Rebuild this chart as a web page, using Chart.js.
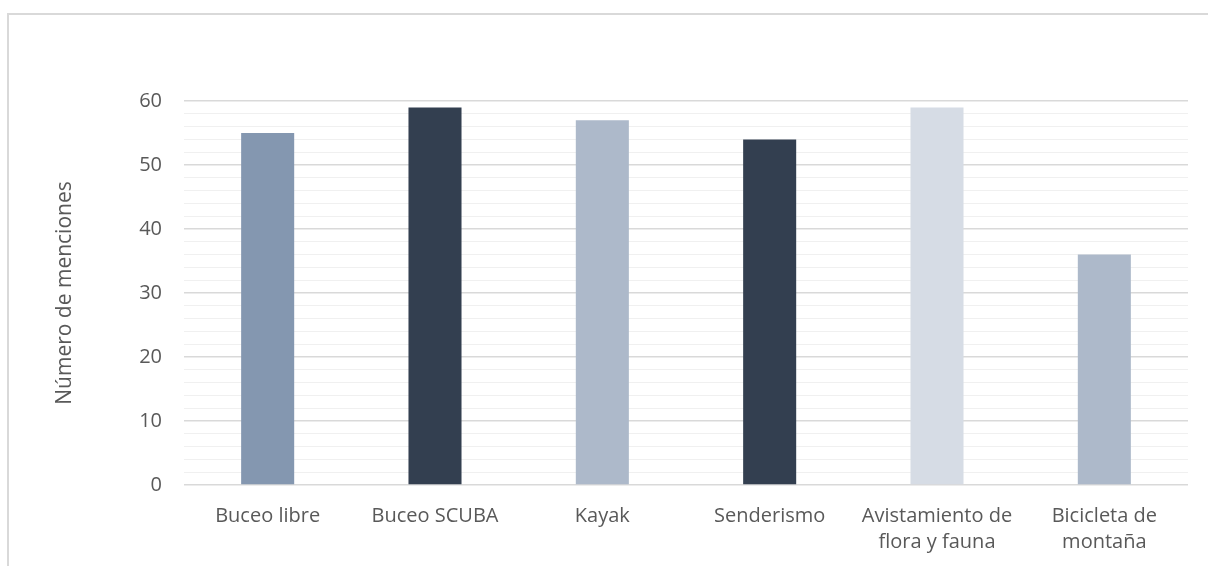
<!DOCTYPE html>
<html>
<head>
<meta charset="utf-8">
<script src="https://cdn.jsdelivr.net/npm/chart.js@4/dist/chart.umd.min.js"></script>
<style>
    html, body { margin: 0; padding: 0; background: #fff; overflow: hidden; }
    #wrap { position: relative; width: 1208px; height: 566px; }
    #frame {
        position: absolute; left: 7px; top: 13px; width: 1400px; height: 800px;
        border: 2px solid #d9d9d9; box-sizing: border-box; pointer-events: none;
    }
</style>
</head>
<body>
<div id="wrap">
    <canvas id="chart" width="1208" height="566"></canvas>
    <div id="frame"></div>
</div>
<script>
// Data
const categories = [
    'Buceo libre',
    'Buceo SCUBA',
    'Kayak',
    'Senderismo',
    ['Avistamiento de', 'flora y fauna'],
    ['Bicicleta de', 'montaña']
];
const mentions = [55, 59, 57, 54, 59, 36];
const barColors = ['#8497B0', '#333F50', '#ADB9CA', '#333F50', '#D6DCE5', '#ADB9CA'];
const yMin = 0;
const yMax = 60;
const yMinorStep = 2;
const yLabelStep = 10;
const yTitle = 'Número de menciones';

const fontFamily = '"Open Sans", Lato, sans-serif';
const textColor = '#595959';

const ctx = document.getElementById('chart');
new Chart(ctx, {
    type: 'bar',
    data: {
        labels: categories,
        datasets: [{
            label: yTitle,
            data: mentions,
            backgroundColor: barColors,
            borderWidth: 0,
            barPercentage: 0.317,
            categoryPercentage: 1.0
        }]
    },
    options: {
        responsive: false,
        animation: false,
        layout: {
            padding: { left: 0, right: 20, top: 101, bottom: 0 }
        },
        plugins: {
            legend: { display: false },
            tooltip: { enabled: false }
        },
        scales: {
            x: {
                grid: { display: false },
                border: { display: false },
                ticks: {
                    color: textColor,
                    font: { family: fontFamily, size: 20, lineHeight: 1.3 },
                    padding: 10,
                    maxRotation: 0,
                    autoSkip: false
                },
                afterFit: (scale) => { scale.height = 81; }
            },
            y: {
                min: yMin,
                max: yMax,
                border: { display: false },
                grid: {
                    drawTicks: false,
                    color: (c) => (c.tick && c.tick.value % yLabelStep === 0) ? '#d9d9d9' : '#f0f0f0',
                    lineWidth: (c) => (c.tick && c.tick.value % yLabelStep === 0) ? 1.5 : 1
                },
                ticks: {
                    stepSize: yMinorStep,
                    color: textColor,
                    font: { family: fontFamily, size: 20 },
                    padding: 22,
                    autoSkip: false,
                    callback: (v) => (v % yLabelStep === 0) ? v : ''
                },
                title: {
                    display: true,
                    text: yTitle,
                    color: textColor,
                    font: { family: fontFamily, size: 21 },
                    padding: { top: 52, bottom: 0 }
                },
                afterFit: (scale) => { scale.width = 184; }
            }
        }
    }
});
</script>
</body>
</html>
